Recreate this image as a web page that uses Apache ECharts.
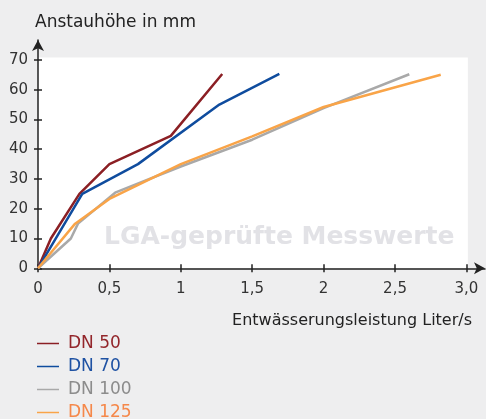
<!DOCTYPE html>
<html>
<head>
<meta charset="utf-8">
<script src="https://cdn.jsdelivr.net/npm/echarts@6/dist/echarts.min.js"></script>
<style>
  html, body { margin: 0; padding: 0; background: #eeeeef; }
  #chart { width: 486px; height: 419px; }
</style>
</head>
<body>
<div id="chart"></div>
<script>
// Anstauhöhe (mm) über Entwässerungsleistung (Liter/s)
const seriesNames = ['DN 50', 'DN 70', 'DN 100', 'DN 125'];
const dn50 = [[0, 0], [0.09, 10], [0.29, 25], [0.5, 35], [0.93, 44.5], [1.29, 65.3]];
const dn70 = [[0, 0], [0.31, 25], [0.7, 35], [1.27, 55], [1.69, 65.3]];
const dn100 = [[0, 0], [0.23, 10], [0.28, 15], [0.54, 25.4], [1, 34.2], [1.5, 43.2], [2, 53.8], [2.6, 65.2]];
const dn125 = [[0, 0], [0.26, 15], [0.5, 23.3], [1, 35], [1.5, 44.3], [2, 54.2], [2.82, 65]];
const xTicks = [0, 0.5, 1, 1.5, 2, 2.5, 3];
const xTickLabels = ['0', '0,5', '1', '1,5', '2', '2,5', '3,0'];
const yTicks = [0, 10, 20, 30, 40, 50, 60, 70];

const lineColors = ['#8b1f24', '#0f4c9e', '#a9a9a9', '#f9a448'];
const textColors = ['#93262b', '#1f52a3', '#8c8c8c', '#f5884a'];
const font = 'DejaVu Sans';

const chart = echarts.init(document.getElementById('chart'));

const axisBase = {
  type: 'value',
  axisLine: {
    show: true,
    symbol: ['none', 'arrow'],
    symbolSize: [9, 11],
    lineStyle: { color: '#222', width: 1.5 }
  },
  splitLine: { show: false }
};

chart.setOption({
  backgroundColor: '#eeeeef',
  animation: false,
  textStyle: { fontFamily: font },
  title: [
    {
      text: 'Anstauhöhe in mm', left: 35, top: 14, padding: 0,
      textStyle: { fontFamily: font, fontSize: 17, fontWeight: 'normal', color: '#222' }
    },
    {
      text: 'Entwässerungsleistung Liter/s', right: 14, top: 313, padding: 0,
      textStyle: { fontFamily: font, fontSize: 16, fontWeight: 'normal', color: '#222' }
    }
  ],
  // Wasserzeichen hinter den Kurven
  graphic: [{
    type: 'text', left: 104, top: 225, z: 1,
    style: { text: 'LGA-geprüfte Messwerte', fill: '#e2e2e6', fontSize: 25, fontWeight: 'bold', fontFamily: font }
  }],
  legend: {
    orient: 'vertical', left: 37, top: 335, height: 120, padding: 0,
    icon: 'rect', itemWidth: 22, itemHeight: 1.5, itemGap: 6,
    textStyle: { fontFamily: font, fontSize: 17, padding: [0, 0, 0, 4] },
    data: seriesNames.map((n, i) => ({ name: n, textStyle: { color: textColors[i], padding: [0, 0, 0, 4] } }))
  },
  grid: { left: 38, top: 40, width: 447, height: 228.3, containLabel: false },
  xAxis: [
    Object.assign({}, axisBase, {
      min: 0, max: 3.13,
      axisTick: { show: true, inside: false, length: 4, customValues: xTicks, lineStyle: { color: '#222', width: 1.5 } },
      axisLabel: {
        customValues: xTicks, margin: 13, fontSize: 15, color: '#333', fontFamily: font,
        formatter: v => xTickLabels[xTicks.indexOf(+v.toFixed(2))] ?? ''
      }
    }),
    {
      type: 'value', min: 0, max: 3.13, position: 'bottom',
      axisLine: { show: false }, splitLine: { show: false }, axisLabel: { show: false },
      axisTick: { show: true, inside: true, length: 4, customValues: xTicks, lineStyle: { color: '#222', width: 1.5 } }
    }
  ],
  yAxis: [
    Object.assign({}, axisBase, {
      min: 0, max: 76.7,
      axisTick: { show: true, inside: false, length: 4, customValues: yTicks, lineStyle: { color: '#222', width: 1.5 } },
      axisLabel: { customValues: yTicks, margin: 10, fontSize: 15, color: '#333', fontFamily: font }
    }),
    {
      type: 'value', min: 0, max: 76.7, position: 'left',
      axisLine: { show: false }, splitLine: { show: false }, axisLabel: { show: false },
      axisTick: { show: true, inside: true, length: 4, customValues: yTicks, lineStyle: { color: '#222', width: 1.5 } }
    }
  ],
  series: [
    {
      name: 'plotarea', type: 'line', data: [], z: 0, zlevel: 0, silent: true,
      markArea: {
        silent: true, z: 0,
        itemStyle: { color: '#ffffff' },
        data: [[{ coord: [0, 0] }, { coord: [3.01, 70.8] }]]
      }
    }
  ].concat([dn50, dn70, dn100, dn125].map((d, i) => ({
    name: seriesNames[i], type: 'line', data: d, z: 3,
    symbol: 'none',
    itemStyle: { color: lineColors[i] },
    lineStyle: { color: lineColors[i], width: 2.5 }
  })))
});
</script>
</body>
</html>
